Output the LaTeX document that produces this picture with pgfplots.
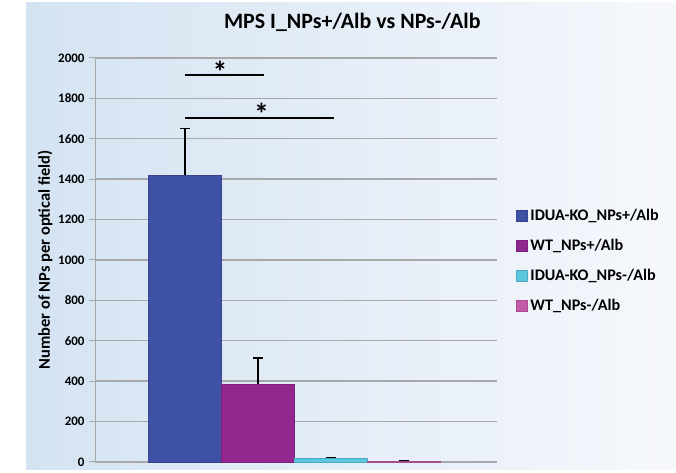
\documentclass[border=0pt]{standalone}
\usepackage{fontspec}
\setmainfont{Carlito}
\usepackage{pgfplots}
\pgfplotsset{compat=1.18}
\definecolor{c1}{HTML}{3F51A5}
\definecolor{c2}{HTML}{92278F}
\definecolor{c3}{HTML}{5BC8DF}
\definecolor{c4}{HTML}{C45AA9}
\definecolor{bgL}{HTML}{D4E3F2}
\definecolor{bgR}{HTML}{F6F8FC}
\definecolor{gridc}{HTML}{A8A8A8}
\begin{document}
\begin{tikzpicture}[x=1bp,y=1bp]
\useasboundingbox (0,0) rectangle (676,473);
\fill[white] (0,0) rectangle (676,473);
\shade[left color=bgL, right color=bgR] (26,3) rectangle (676,470);
\begin{axis}[
  at={(95bp,11bp)}, anchor=south west,
  scale only axis, width=402bp, height=404bp,
  ybar, bar width=1,
  xmin=-0.233, xmax=5.274, ymin=0, ymax=2000,
  ytick={0,200,...,2000}, xtick=\empty,
  axis x line=none, axis y line*=left,
  y axis line style={gridc, line width=1bp},
  ymajorgrids, grid style={gridc, line width=1.4bp},
  tick align=outside, major tick length=6bp,
  ytick style={gridc, line width=1bp},
  /pgf/number format/assume math mode=true,
  /pgf/number format/1000 sep={},
  yticklabel style={font=\fontsize{13}{13}\selectfont\bfseries, xshift=-1bp},
  ylabel={Number of NPs per optical field)},
  ylabel style={at={(axis description cs:-0.124,0.5)}, anchor=center, font=\fontsize{16.5}{16.5}\selectfont\bfseries},
  title={MPS I\_NPs+/Alb vs NPs-/Alb},
  title style={at={(axis description cs:0.64,1.074)}, anchor=center, font=\fontsize{22}{22}\selectfont\bfseries},
  clip=false,
  legend cell align=left,
  legend image code/.code={\fill[#1] (0bp,-5.5bp) rectangle (11bp,5.5bp);},
  legend style={at={(1.047,0.635)}, anchor=north west, draw=none, fill=none,
    font=\fontsize{16.2}{16.2}\selectfont\bfseries, row sep=13bp,
    inner xsep=0pt, /tikz/every odd column/.append style={column sep=1bp}},
]
\addplot[bar shift=0pt, fill=c1, draw=c1!85!black,
  error bars/.cd, y dir=plus, y explicit,
  error bar style={black, line width=1.2bp},
  error mark options={black, line width=1.2bp, mark size=5bp, rotate=90}]
  coordinates {(1,1420) +- (0,230)};
\addlegendentry{IDUA-KO\_NPs+/Alb}
\addplot[bar shift=0pt, fill=c2, draw=c2!85!black,
  error bars/.cd, y dir=plus, y explicit,
  error bar style={black, line width=1.2bp},
  error mark options={black, line width=1.2bp, mark size=5bp, rotate=90}]
  coordinates {(2,385) +- (0,130)};
\addlegendentry{WT\_NPs+/Alb}
\addplot[bar shift=0pt, fill=c3, draw=c3!85!black,
  error bars/.cd, y dir=plus, y explicit,
  error bar style={black, line width=1.2bp},
  error mark options={black, line width=1.2bp, mark size=5bp, rotate=90}]
  coordinates {(3,20) +- (0,3)};
\addlegendentry{IDUA-KO\_NPs-/Alb}
\addplot[bar shift=0pt, fill=c4, draw=c4!85!black,
  error bars/.cd, y dir=plus, y explicit,
  error bar style={black, line width=1.2bp},
  error mark options={black, line width=1.2bp, mark size=5bp, rotate=90}]
  coordinates {(4,6) +- (0,3)};
\addlegendentry{WT\_NPs-/Alb}
\draw[black, line width=2.4bp] (axis cs:1,1917) -- (axis cs:2.08,1917);
\draw[black, line width=2.4bp] (axis cs:1,1703) -- (axis cs:3.04,1703);
\node[font=\fontsize{30}{30}\selectfont\bfseries, yshift=-7bp] at (axis cs:1.48,1966) {*};
\node[font=\fontsize{30}{30}\selectfont\bfseries, yshift=-7bp] at (axis cs:2.05,1757) {*};
\end{axis}
\end{tikzpicture}
\end{document}
